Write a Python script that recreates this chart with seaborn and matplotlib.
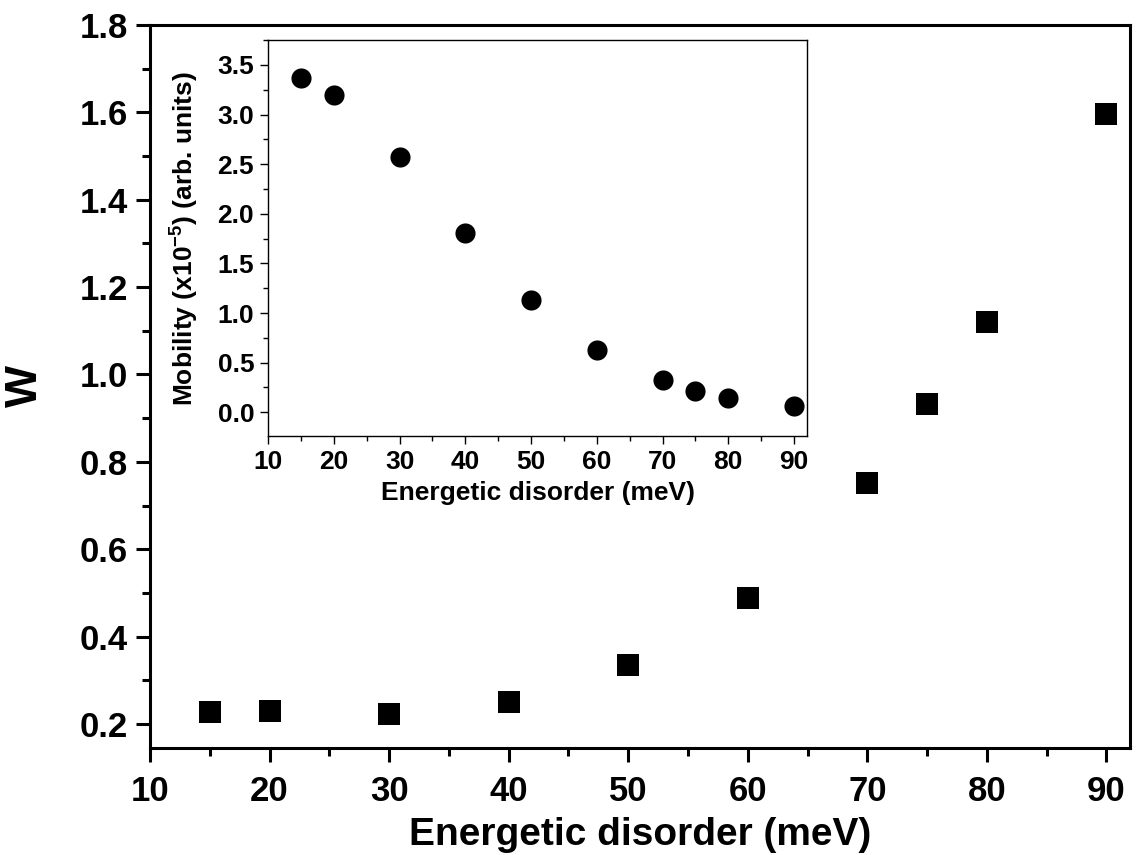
import matplotlib
matplotlib.use("Agg")
import matplotlib.pyplot as plt
from matplotlib.ticker import MultipleLocator, FormatStrFormatter
import seaborn as sns
import pandas as pd

# Data
disorder = [15, 20, 30, 40, 50, 60, 70, 75, 80, 90]
w_values = [0.228, 0.230, 0.222, 0.250, 0.336, 0.489, 0.751, 0.932, 1.120, 1.596]
mobility = [3.37, 3.20, 2.57, 1.81, 1.13, 0.63, 0.32, 0.21, 0.14, 0.06]

sns.set_theme(style="ticks")
plt.rcParams['font.family'] = ['Liberation Sans', 'DejaVu Sans']
plt.rcParams['font.weight'] = 'bold'
plt.rcParams['text.color'] = 'black'
plt.rcParams['axes.labelcolor'] = 'black'
plt.rcParams['xtick.color'] = 'black'
plt.rcParams['ytick.color'] = 'black'
plt.rcParams['mathtext.fontset'] = 'custom'
plt.rcParams['mathtext.rm'] = 'Liberation Sans:bold'
plt.rcParams['mathtext.bf'] = 'Liberation Sans:bold'
plt.rcParams['mathtext.default'] = 'bf'

df = pd.DataFrame({"disorder": disorder, "W": w_values, "mobility": mobility})

fig = plt.figure(figsize=(11.36, 8.55), dpi=100)
ax = fig.add_axes([0.132, 0.125, 0.863, 0.846])
sns.scatterplot(data=df, x="disorder", y="W", marker="s", s=260, color="black",
                edgecolor="black", linewidth=0, ax=ax)
ax.set_xlim(10, 92)
ax.set_ylim(0.145, 1.8)
ax.xaxis.set_major_locator(MultipleLocator(10))
ax.xaxis.set_minor_locator(MultipleLocator(5))
ax.yaxis.set_major_locator(MultipleLocator(0.2))
ax.yaxis.set_minor_locator(MultipleLocator(0.1))
ax.yaxis.set_major_formatter(FormatStrFormatter('%.1f'))
for s in ax.spines.values():
    s.set_linewidth(2.2)
    s.set_color("black")
ax.tick_params(axis='both', which='major', direction='out', length=10, width=2.2,
               labelsize=25, pad=6, colors='black')
ax.tick_params(axis='x', which='major', pad=9)
ax.tick_params(axis='both', which='minor', direction='out', length=6, width=2.2)
for lab in ax.get_xticklabels() + ax.get_yticklabels():
    lab.set_fontweight('bold')
ax.set_xlabel("Energetic disorder (meV)", fontsize=28, fontweight='bold', labelpad=7, color='black')
ax.set_ylabel("W", fontsize=32, fontweight='bold', color='black')
ax.yaxis.set_label_coords(-0.106, 0.5)

# Inset
ins = fig.add_axes([0.236, 0.490, 0.4745, 0.463])
sns.scatterplot(data=df, x="disorder", y="mobility", marker="o", s=210, color="black",
                edgecolor="black", linewidth=0, ax=ins)
ins.set_xlim(10, 92)
ins.set_ylim(-0.24, 3.75)
ins.xaxis.set_major_locator(MultipleLocator(10))
ins.xaxis.set_minor_locator(MultipleLocator(5))
ins.yaxis.set_major_locator(MultipleLocator(0.5))
ins.yaxis.set_minor_locator(MultipleLocator(0.25))
ins.yaxis.set_major_formatter(FormatStrFormatter('%.1f'))
for s in ins.spines.values():
    s.set_linewidth(1.0)
    s.set_color("black")
ins.tick_params(axis='both', which='major', direction='out', length=6, width=1.0,
                labelsize=19, pad=4, colors='black')
ins.tick_params(axis='both', which='minor', direction='out', length=3.5, width=1.0)
for lab in ins.get_xticklabels() + ins.get_yticklabels():
    lab.set_fontweight('bold')
ins.set_xlabel("Energetic disorder (meV)", fontsize=19, fontweight='bold', labelpad=5, color='black')
ins.set_ylabel(r"Mobility (x10$^{-5}$) (arb. units)", fontsize=19, fontweight='bold',
               labelpad=12, color='black')

fig.savefig("out.png", dpi=100)
